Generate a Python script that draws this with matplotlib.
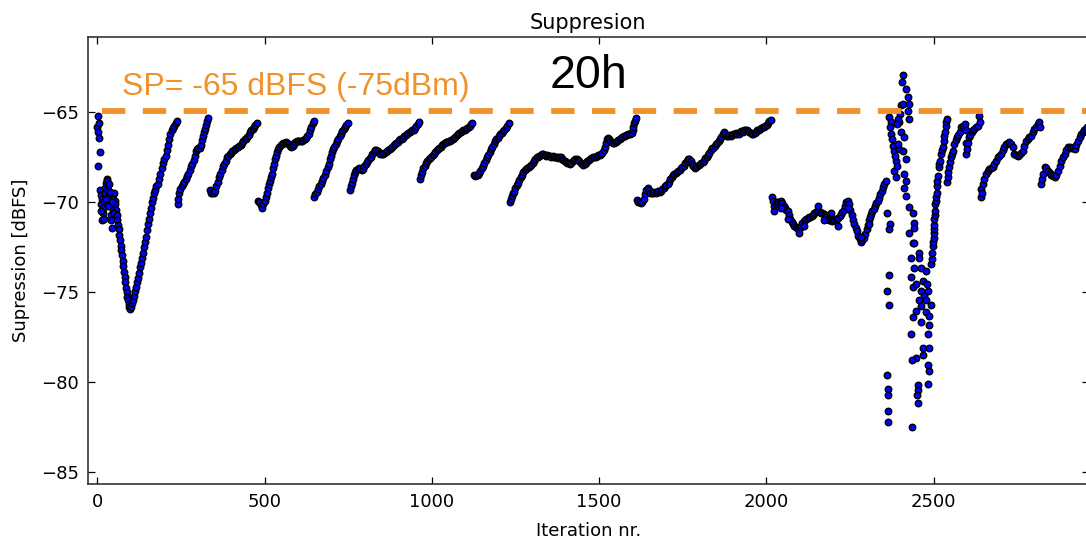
import matplotlib
matplotlib.use('Agg')
import matplotlib.pyplot as plt

# Suppression readings (iteration, dBFS), one list per sawtooth run
seg01 = [(0,-65.8),(2,-65.2),(3,-66.1),(4,-66.4),(5,-65.6),(7,-67.2),(2,-68.0),
         (8,-69.3),(10,-69.6),(12,-70.1),(14,-69.8),(16,-70.3),(18,-70.6),(20,-69.9),(22,-69.5),
         (24,-69.2),(26,-68.9),(28,-68.7),(30,-68.8),(32,-69.3),(34,-69.0),(36,-69.6),(38,-70.2),
         (40,-70.7),(42,-71.0),(44,-71.4),(46,-70.4),(48,-69.6),(50,-69.5),(52,-69.9),(54,-70.1),
         (56,-70.4),(10,-70.5),(14,-71.0),(20,-70.9),(26,-69.8),(32,-70.2),(38,-69.4),(44,-70.0),
         (50,-70.6),(58,-70.7),(60,-71.0),(62,-71.25),(64,-71.5),(66,-71.8),(68,-72.1),(70,-72.4),
         (72,-72.65),(74,-72.95),(76,-73.25),(78,-73.55),(80,-73.85),(82,-74.15),(84,-74.45),
         (86,-74.75),(88,-75.0),(90,-75.25),(92,-75.45),(94,-75.65),(96,-75.8),(98,-75.9),
         (100,-75.8),(103,-75.6),(106,-75.4),(109,-75.2),(112,-74.9),(115,-74.7),(118,-74.45),
         (121,-74.2),(124,-73.9),(127,-73.6),(130,-73.35),(133,-73.1),(136,-72.8),(139,-72.5),
         (142,-72.2),(145,-71.9),(148,-71.55),(151,-71.2),(154,-70.9),(157,-70.6),(160,-70.3),
         (163,-70.0),(166,-69.75),(169,-69.5),(172,-69.3),(176,-69.1),(180,-68.95),(184,-68.7),
         (188,-68.4),(192,-68.1),(196,-67.8),(200,-67.6),(204,-67.4),(208,-67.1),(212,-66.8),
         (215,-66.5),(218,-66.2),(222,-66.0),(226,-65.85),(230,-65.75),(234,-65.6),(238,-65.5)]
seg02 = [(240,-70.1),(242,-69.8),(245,-69.5),(248,-69.25),(252,-69.1),(256,-68.95),(260,-68.85),
         (264,-68.7),(268,-68.55),(272,-68.4),(276,-68.2),(280,-68.0),(284,-67.85),(288,-67.65),
         (291,-67.4),(294,-67.15),(298,-67.05),(302,-67.0),(306,-67.0),(310,-66.8),(313,-66.55),
         (316,-66.3),(320,-66.1),(323,-65.9),(326,-65.7),(329,-65.5),(332,-65.3)]
seg03 = [(337,-69.3),(340,-69.45),(344,-69.5),(348,-69.45),(352,-69.35),(356,-69.1),(360,-68.85),
         (364,-68.6),(368,-68.4),(372,-68.2),(376,-68.0),(380,-67.85),(384,-67.7),(388,-67.5),
         (392,-67.4),(396,-67.3),(400,-67.25),(404,-67.15),(408,-67.1),(412,-67.05),(416,-67.0),
         (420,-66.9),(424,-66.85),(428,-66.8),(432,-66.7),(436,-66.6),(440,-66.5),(444,-66.45),
         (448,-66.35),(452,-66.25),(456,-66.1),(460,-66.0),(464,-65.9),(468,-65.8),(472,-65.7),
         (476,-65.6)]
seg04 = [(480,-69.9),(484,-70.0),(488,-70.15),(492,-70.3),(496,-70.1),(500,-69.9),(504,-69.7),
         (508,-69.45),(511,-69.2),(514,-69.0),(517,-68.8),(520,-68.6),(523,-68.4),(526,-68.1),
         (528,-67.85),(530,-67.6),(533,-67.4),(536,-67.2),(540,-67.05),(544,-66.9),(548,-66.8),
         (552,-66.75),(556,-66.7),(560,-66.7),(564,-66.65),(568,-66.7),(572,-66.75),(576,-66.85),
         (580,-66.9),(584,-66.85),(588,-66.75),(592,-66.65),(596,-66.6),(600,-66.6),(604,-66.6),
         (608,-66.6),(612,-66.6),(616,-66.55),(620,-66.5),(624,-66.4),(628,-66.3),(632,-66.2),
         (636,-66.0),(640,-65.8),(644,-65.6),(647,-65.5)]
seg05 = [(649,-69.7),(652,-69.55),(656,-69.4),(660,-69.25),(664,-69.1),(668,-68.95),(672,-68.8),
         (676,-68.65),(680,-68.45),(684,-68.25),(688,-68.05),(692,-67.85),(695,-67.6),(698,-67.4),
         (701,-67.2),(704,-67.05),(708,-66.9),(712,-66.75),(716,-66.6),(720,-66.45),(724,-66.3),
         (728,-66.2),(732,-66.05),(736,-65.9),(740,-65.8),(744,-65.7),(748,-65.6)]
seg06 = [(755,-69.3),(758,-69.1),(761,-68.9),(764,-68.7),(767,-68.5),(770,-68.3),(774,-68.2),
         (778,-68.15),(782,-68.1),(786,-68.15),(790,-68.2),(794,-68.15),(798,-68.0),(802,-67.85),
         (806,-67.75),(810,-67.65),(814,-67.55),(818,-67.45),(822,-67.3),(826,-67.2),(830,-67.1),
         (834,-67.1),(838,-67.15),(842,-67.25),(846,-67.3),(850,-67.3),(854,-67.3),(858,-67.25),
         (862,-67.2),(866,-67.15),(870,-67.1),(874,-67.05),(878,-67.0),(882,-66.9),(886,-66.8),
         (890,-66.75),(894,-66.7),(898,-66.65),(902,-66.55),(906,-66.5),(910,-66.45),(914,-66.4),
         (918,-66.3),(922,-66.25),(926,-66.2),(930,-66.15),(934,-66.1),(938,-66.05),(942,-66.0),
         (946,-65.95),(950,-65.85),(954,-65.75),(958,-65.65),(961,-65.55)]
seg07 = [(965,-68.7),(968,-68.5),(971,-68.3),(974,-68.1),(978,-67.95),(982,-67.8),(986,-67.7),
         (990,-67.6),(994,-67.55),(998,-67.45),(1002,-67.35),(1006,-67.3),(1010,-67.2),(1014,-67.1),
         (1018,-67.05),(1022,-66.95),(1026,-66.9),(1030,-66.8),(1034,-66.75),(1038,-66.7),
         (1042,-66.65),(1046,-66.65),(1050,-66.6),(1054,-66.6),(1058,-66.55),(1062,-66.5),
         (1066,-66.4),(1070,-66.35),(1074,-66.25),(1078,-66.2),(1082,-66.15),(1086,-66.1),
         (1090,-66.05),(1094,-66.0),(1098,-65.95),(1102,-65.9),(1106,-65.85),(1110,-65.8),
         (1114,-65.75),(1118,-65.65),(1121,-65.6)]
seg08 = [(1125,-68.5),(1129,-68.55),(1133,-68.5),(1137,-68.45),(1141,-68.35),(1145,-68.25),
         (1149,-68.1),(1153,-67.95),(1157,-67.8),(1161,-67.65),(1165,-67.5),(1169,-67.35),
         (1173,-67.2),(1177,-67.05),(1181,-66.9),(1185,-66.75),(1189,-66.6),(1193,-66.5),
         (1197,-66.4),(1201,-66.3),(1205,-66.2),(1209,-66.15),(1213,-66.05),(1217,-65.95),
         (1221,-65.85),(1225,-65.75),(1229,-65.6)]
seg09 = [(1233,-70.0),(1236,-69.8),(1239,-69.65),(1242,-69.5),(1245,-69.4),(1249,-69.2),(1253,-69.05),
         (1257,-68.9),(1261,-68.75),(1265,-68.6),(1269,-68.45),(1273,-68.3),(1277,-68.2),(1281,-68.15),
         (1285,-68.1),(1289,-68.05),(1293,-68.0),(1297,-67.9),(1301,-67.8),(1305,-67.7),(1309,-67.6),
         (1313,-67.5),(1317,-67.45),(1321,-67.4),(1325,-67.35),(1329,-67.3),(1333,-67.3),(1337,-67.35),
         (1341,-67.4),(1345,-67.35),(1349,-67.4),(1353,-67.4),(1357,-67.45),(1361,-67.4),(1365,-67.5),
         (1369,-67.45),(1373,-67.5),(1377,-67.55),(1381,-67.5),(1385,-67.5),(1389,-67.6),(1393,-67.65),
         (1397,-67.7),(1401,-67.75),(1405,-67.8),(1409,-67.8),(1413,-67.85),(1417,-67.8),(1421,-67.7),
         (1425,-67.65),(1429,-67.6),(1433,-67.6),(1437,-67.65),(1441,-67.7),(1445,-67.8),(1449,-67.85),
         (1453,-67.9),(1457,-67.85),(1461,-67.8),(1465,-67.7),(1469,-67.65),(1473,-67.6),(1477,-67.55),
         (1481,-67.5),(1485,-67.5),(1489,-67.45),(1493,-67.4),(1497,-67.35),(1501,-67.35),(1505,-67.3),
         (1509,-67.25),(1513,-67.1),(1516,-66.9),(1519,-66.7),(1522,-66.5),(1525,-66.4),(1529,-66.5),
         (1533,-66.6),(1537,-66.65),(1541,-66.7),(1545,-66.7),(1549,-66.65),(1553,-66.6),(1557,-66.55),
         (1561,-66.45),(1565,-66.4),(1569,-66.35),(1573,-66.3),(1577,-66.3),(1581,-66.25),(1585,-66.2),
         (1589,-66.2),(1593,-66.2),(1597,-66.15),(1600,-66.0),(1602,-65.8),(1604,-65.6),(1606,-65.45),
         (1609,-65.3)]
seg10 = [(1613,-69.85),(1617,-69.95),(1621,-70.0),(1625,-70.05),(1629,-70.0),(1633,-69.8),(1637,-69.55),
         (1641,-69.3),(1645,-69.2),(1649,-69.3),(1653,-69.45),(1657,-69.5),(1661,-69.45),(1665,-69.4),
         (1669,-69.45),(1673,-69.4),(1677,-69.35),(1681,-69.4),(1685,-69.35),(1689,-69.25),(1693,-69.2),
         (1697,-69.1),(1701,-69.05),(1705,-68.95),(1709,-68.85),(1713,-68.7),(1717,-68.6),(1721,-68.5),
         (1725,-68.4),(1729,-68.35),(1733,-68.3),(1737,-68.25),(1741,-68.2),(1745,-68.1),(1749,-68.05),
         (1753,-67.95),(1757,-67.8),(1761,-67.7),(1765,-67.6),(1769,-67.6),(1773,-67.7),(1777,-67.85),
         (1781,-68.0),(1785,-68.1),(1789,-68.05),(1793,-67.95),(1797,-67.9),(1801,-67.85),(1805,-67.8),
         (1809,-67.75),(1813,-67.7),(1817,-67.55),(1821,-67.45),(1825,-67.35),(1829,-67.25),(1833,-67.1),
         (1837,-67.0),(1841,-66.95),(1845,-66.85),(1849,-66.75),(1853,-66.7),(1857,-66.6),(1861,-66.5),
         (1865,-66.35),(1869,-66.2),(1873,-66.1),(1877,-66.2),(1881,-66.3),(1885,-66.3),(1889,-66.25),
         (1893,-66.3),(1897,-66.25),(1901,-66.2),(1905,-66.2),(1909,-66.15),(1913,-66.2),(1917,-66.2),
         (1921,-66.1),(1925,-66.05),(1929,-66.1),(1933,-66.0),(1937,-66.0),(1941,-65.95),(1945,-66.05),
         (1949,-66.1),(1953,-66.15),(1957,-66.2),(1961,-66.2),(1965,-66.15),(1969,-66.1),(1973,-66.0),
         (1977,-65.95),(1981,-65.9),(1985,-65.85),(1989,-65.8),(1993,-65.8),(1997,-65.75),(2001,-65.7),
         (2005,-65.6),(2009,-65.5),(2013,-65.4)]
seg11 = [(2017,-69.7),(2020,-69.9),(2023,-70.2),(2027,-70.1),(2031,-70.0),(2035,-69.95),(2039,-70.0),
         (2043,-69.9),(2047,-70.05),(2051,-70.2),(2055,-70.3),(2059,-70.4),(2063,-70.5),(2067,-70.7),
         (2071,-70.9),(2075,-71.1),(2079,-71.2),(2083,-71.3),(2087,-71.35),(2091,-71.4),(2095,-71.45),
         (2099,-71.4),(2103,-71.3),(2107,-71.15),(2111,-71.05),(2115,-71.0),(2119,-70.9),(2123,-70.85),
         (2127,-70.8),(2131,-70.8),(2135,-70.75),(2139,-70.7),(2143,-70.6),(2147,-70.55),(2151,-70.5),
         (2155,-70.5),(2159,-70.55),(2163,-70.6),(2167,-70.6),(2171,-70.65),(2175,-70.7),(2179,-70.8),
         (2183,-70.9),(2187,-71.0),(2191,-71.0),(2195,-71.05),(2199,-71.0),(2203,-70.95),(2207,-70.9),
         (2211,-70.9),(2215,-70.85),(2219,-70.75),(2223,-70.65),(2227,-70.55),(2231,-70.4),(2235,-70.2),
         (2239,-70.0),(2243,-69.9),(2247,-70.1),(2251,-70.4),(2255,-70.7),(2259,-70.95),(2263,-71.2),
         (2267,-71.4),(2271,-71.6),(2275,-71.85),(2279,-72.05),(2283,-72.2),(2287,-72.1),(2291,-71.95),
         (2295,-71.75),(2299,-71.5),(2302,-71.25),(2305,-71.0),(2308,-70.8),(2312,-70.65),(2316,-70.5),
         (2320,-70.35),(2324,-70.2),(2328,-70.05),(2332,-69.9),(2336,-69.75),(2340,-69.55),(2344,-69.35),
         (2348,-69.15),(2352,-69.0),(2356,-68.8),
         (2023,-70.5),(2043,-70.3),(2063,-70.9),(2098,-71.7),(2113,-71.3),(2153,-70.2),(2173,-71.0),
         (2193,-70.6),(2213,-71.3),(2243,-70.3),(2283,-71.9),(2307,-71.2)]
# the unstable stretch around iteration 2400
seg12 = [(2367,-65.26),(2372,-65.54),(2372,-66.19),(2377,-66.84),(2382,-67.12),(2387,-67.68),
         (2382,-68.23),(2387,-68.61),(2369,-65.8),(2374,-66.5),(2384,-67.4),(2389,-68.0),
         (2359,-70.56),(2370,-71.21),(2367,-71.49),(2367,-74.05),(2360,-74.93),(2367,-75.71),
         (2360,-79.57),(2362,-80.38),(2362,-80.69),(2362,-81.62),(2364,-82.22),
         (2407,-62.94),(2405,-63.31),(2417,-63.68),(2422,-64.15),(2402,-64.61),(2407,-64.52),
         (2427,-64.52),(2422,-64.89),(2400,-65.07),(2427,-65.35),(2397,-65.54),(2402,-66.1),
         (2394,-65.35),(2412,-66.38),(2390,-65.63),(2397,-67.02),
         (2392,-66.75),(2407,-67.12),(2417,-67.58),(2412,-68.42),(2417,-68.79),(2412,-69.17),
         (2417,-69.63),(2427,-70.28),(2437,-70.56),(2442,-71.12),(2440,-71.4),(2427,-71.71),
         (2437,-72.23),(2442,-72.28),
         (2457,-72.79),(2457,-73.07),(2432,-73.07),(2462,-73.63),(2442,-73.66),(2477,-73.81),
         (2432,-74.15),(2437,-74.7),(2447,-74.52),(2467,-74.37),(2480,-74.52),(2462,-74.93),
         (2482,-74.93),(2470,-75.21),(2457,-75.45),(2477,-75.45),(2462,-75.76),(2447,-76.04),
         (2492,-75.71),(2477,-76.08),(2487,-76.32),(2437,-76.38),(2462,-76.64),(2487,-76.82),
         (2432,-77.31),(2482,-77.31),(2467,-78.12),(2487,-78.12),(2447,-78.65),(2434,-78.74),
         (2467,-78.46),(2484,-79.02),(2487,-79.35),(2484,-80.1),(2452,-80.13),(2452,-80.41),
         (2450,-80.69),(2454,-81.16),(2434,-82.5)]
seg13 = [(2492,-73.44),(2494,-73.16),(2496,-72.8),(2497,-72.42),(2499,-72.2),(2500,-71.95),
         (2500,-71.68),(2501,-71.45),(2500,-71.26),(2502,-70.93),(2504,-70.7),(2505,-70.47),
         (2505,-70.09),(2506,-69.9),(2507,-69.72),(2509,-69.45),(2510,-69.07),(2511,-68.8),
         (2512,-68.51),(2515,-68.05),(2517,-67.85),(2520,-67.68),(2522,-67.3),(2525,-67.1),
         (2527,-66.93),(2530,-66.56),(2532,-66.3),(2534,-66.1),(2537,-65.73),(2538,-65.55),
         (2540,-65.35),
         (2540,-68.89),(2542,-68.61),(2544,-68.3),(2547,-68.05),(2549,-67.75),(2552,-67.49),
         (2554,-67.3),(2557,-67.12),(2561,-66.75),(2565,-66.55),(2570,-66.38),(2573,-66.25),
         (2577,-66.1),(2582,-65.82),(2587,-65.75),(2594,-65.63),(2596,-66.0),(2596,-67.3),
         (2597,-66.7),(2599,-67.02),(2602,-66.7),(2606,-66.38),(2609,-66.25),(2613,-66.1),
         (2617,-66.0),(2621,-65.91),(2626,-65.8),(2631,-65.73),(2634,-65.2),(2639,-65.54)]
seg14 = [(2641,-69.72),(2641,-69.26),(2643,-69.5),(2646,-68.98),(2650,-68.7),(2656,-68.42),
         (2661,-68.23),(2666,-68.15),(2671,-68.1),(2676,-68.05),(2681,-67.85),(2686,-67.68),
         (2691,-67.49),(2696,-67.4),(2701,-67.3),(2706,-67.1),(2711,-66.9),(2716,-66.75),
         (2721,-66.7),(2726,-66.65),(2731,-66.75),(2736,-66.93),(2741,-67.3),(2746,-67.35),
         (2751,-67.4),(2756,-67.35),(2761,-67.25),(2766,-67.12),(2771,-66.85),(2776,-66.56),
         (2781,-66.45),(2786,-66.35),(2791,-66.28),(2796,-66.1),(2801,-65.91),(2806,-65.8),
         (2811,-65.65),(2816,-65.54),(2818,-65.82)]
seg15 = [(2821,-68.98),(2823,-68.7),(2826,-68.42),(2831,-68.05),(2836,-68.1),(2841,-68.23),
         (2846,-68.35),(2851,-68.45),(2856,-68.55),(2861,-68.61),(2866,-68.45),(2871,-68.23),
         (2876,-67.95),(2881,-67.68),(2886,-67.5),(2891,-67.3),(2896,-67.1),(2901,-66.93),
         (2906,-66.9),(2911,-66.95),(2916,-67.0),(2921,-67.02),(2926,-66.8),(2931,-66.56),
         (2936,-66.35),(2940,-66.19),(2945,-66.1),(2950,-66.0),(2954,-65.9),(2958,-65.82)]
segments = [seg01,seg02,seg03,seg04,seg05,seg06,seg07,seg08,seg09,seg10,seg11,seg12,seg13,seg14,seg15]

SP_LEVEL = -64.92
SP_TEXT = 'SP= -65 dBFS (-75dBm)'
TIME_TEXT = '20h'

iters = []
supp = []
for seg in segments:
    for x,y in seg:
        iters.append(x)
        supp.append(y)

plt.rcParams['font.family'] = 'DejaVu Sans'
fig = plt.figure(figsize=(10.86,5.39),dpi=100,facecolor='w')
ax = fig.add_axes([0.08076,0.10148,0.92201,0.82931])
ax.scatter(iters,supp,s=22,c='#0000ff',edgecolors='k',linewidths=1.0,zorder=3)
ax.plot([13,2964],[SP_LEVEL,SP_LEVEL],color='#f0922b',lw=4.2,dashes=(4,3),
        solid_capstyle='butt',dash_capstyle='butt',zorder=4)
ax.set_xlim(-28.7,2964)
ax.set_ylim(-85.67,-60.82)
ax.set_xticks([0,500,1000,1500,2000,2500])
ax.set_yticks([-85,-80,-75,-70,-65])
ax.tick_params(direction='in',length=5,width=0.9,top=True,right=True,labelsize=13,pad=6)
for sp in ax.spines.values():
    sp.set_linewidth(1.2)
    sp.set_color('#333333')
ax.set_title('Suppresion',fontsize=15,pad=6)
ax.set_xlabel('Iteration nr.',fontsize=13,labelpad=8)
ax.set_ylabel('Supression [dBFS]',fontsize=13,labelpad=8)

fig.text(122/1086.0,1-95/539.0,SP_TEXT,color='#f0922b',fontsize=23,
         family='Liberation Sans',va='baseline',ha='left')
fig.text(550/1086.0,1-88/539.0,TIME_TEXT,color='k',fontsize=33.5,
         family='Liberation Sans',va='baseline',ha='left')

plt.savefig('out.png',dpi=100,facecolor='w')
